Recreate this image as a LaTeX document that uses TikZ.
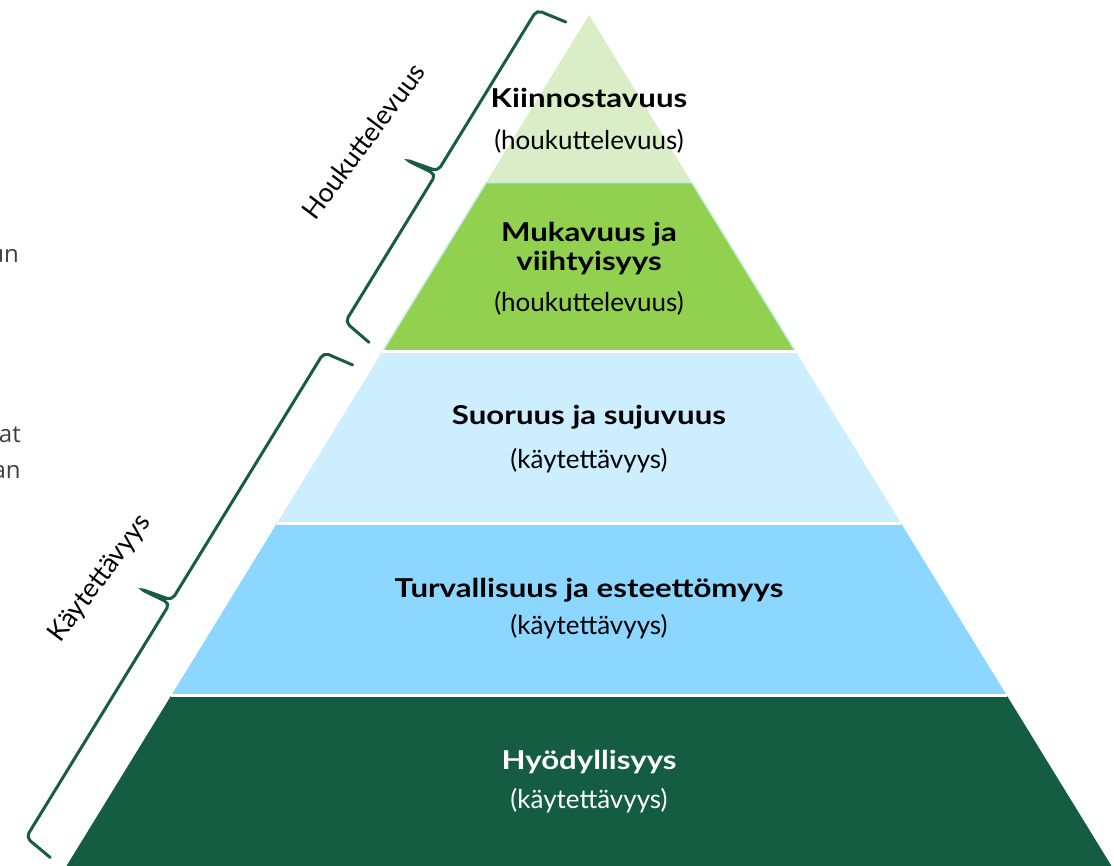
\documentclass[tikz,border=0pt]{standalone}
\usepackage{fontspec}
\setmainfont{Lato}
\newfontfamily\titlefont{Lato}[FakeStretch=1.2]
\newfontfamily\cutfont{Open Sans}
\definecolor{topgreen}{HTML}{D9EEC6}
\definecolor{midgreen}{HTML}{92D050}
\definecolor{paleblue}{HTML}{CCEEFF}
\definecolor{skyblue}{HTML}{8BD7FF}
\definecolor{darkgreen}{HTML}{145C42}
\definecolor{bracegreen}{HTML}{175C43}
\definecolor{aqua}{HTML}{C8EFE6}
\definecolor{textgray}{HTML}{404040}
\begin{document}
\begin{tikzpicture}[x=0.75pt,y=0.75pt,
    title/.style={font=\titlefont\fontsize{19.5}{21}\selectfont\bfseries, inner sep=0pt, anchor=base},
    sub/.style={font=\fontsize{19.5}{21}\selectfont, inner sep=0pt, anchor=base},
    gap/.style={draw=white, line width=2.25pt},
    bracket/.style={draw=bracegreen, line width=2.25pt, rounded corners=4pt, line cap=round},
    sidelabel/.style={font=\fontsize{20}{22}\selectfont, inner sep=0pt, anchor=base, rotate=53},
    cut/.style={font=\cutfont\fontsize{18}{20}\selectfont, text=textgray, inner sep=0pt, anchor=base east}]
    \useasboundingbox (0,0) rectangle (1114,866);
    \clip (0,0) rectangle (1114,866);

    % pyramid layers
    \fill[topgreen] (589,851) -- (691.8,683.5) -- (486.2,683.5) -- cycle;
    \filldraw[fill=midgreen, draw=aqua, line width=1.2pt] (486.2,683.5) -- (691.8,683.5) -- (795.6,514.5) -- (382.4,514.5) -- cycle;
    \fill[paleblue] (382.4,514.5) -- (795.6,514.5) -- (901.2,342.5) -- (276.8,342.5) -- cycle;
    \fill[skyblue] (276.8,342.5) -- (901.2,342.5) -- (1006.8,170.5) -- (171.2,170.5) -- cycle;
    \fill[darkgreen] (171.2,170.5) -- (1006.8,170.5) -- (1132.4,-34) -- (45.6,-34) -- cycle;
    \draw[gap] (382.4,514.5) -- (795.6,514.5);
    \draw[gap] (276.8,342.5) -- (901.2,342.5);
    \draw[gap] (171.2,170.5) -- (1006.8,170.5);

    % texts
    \node[title] (kiin) at (589,758.5) {Kiinnostavuus};
    \node[sub] (kiinsub) at (589,716) {(houkuttelevuus)};
    \node[title] (muka) at (589,624) {Mukavuus ja};
    \node[title] (viih) at (589,595) {viihtyisyys};
    \node[sub] (mukasub) at (589,554) {(houkuttelevuus)};
    \node[title] (suor) at (589,441) {Suoruus ja sujuvuus};
    \node[sub] (suorsub) at (589,397) {(käytettävyys)};
    \node[title] (turv) at (589,268) {Turvallisuus ja esteettömyys};
    \node[sub] (turvsub) at (589,231) {(käytettävyys)};
    \node[title, text=white] (hyod) at (589,96) {Hyödyllisyys};
    \node[sub, text=white] (hyodsub) at (589,57) {(käytettävyys)};

    % braces
    \begin{scope}[shift={(441,700)}, rotate=58.45]
        \draw[bracket] (-188,-31) -- (-183,0) -- (-10,0) -- (-13,33) -- (-6,0) -- (183,0) -- (188,-31);
    \end{scope}
    \begin{scope}[shift={(175,271)}, rotate=58.45]
        \draw[bracket] (-289,-31) -- (-284.5,0) -- (-10,0) -- (-13,33) -- (-6,0) -- (284.5,0) -- (289,-31);
    \end{scope}
    \node[sidelabel] (houk) at (371,719) {Houkuttelevuus};
    \node[sidelabel] (kayt) at (106,283) {Käytettävyys};

    % cut-off text at the left edge
    \node[cut] (cutun) at (19,603) {un};
    \node[cut] (cutat) at (21,423) {at};
    \node[cut] (cutan) at (21,387) {an};
\end{tikzpicture}
\end{document}
